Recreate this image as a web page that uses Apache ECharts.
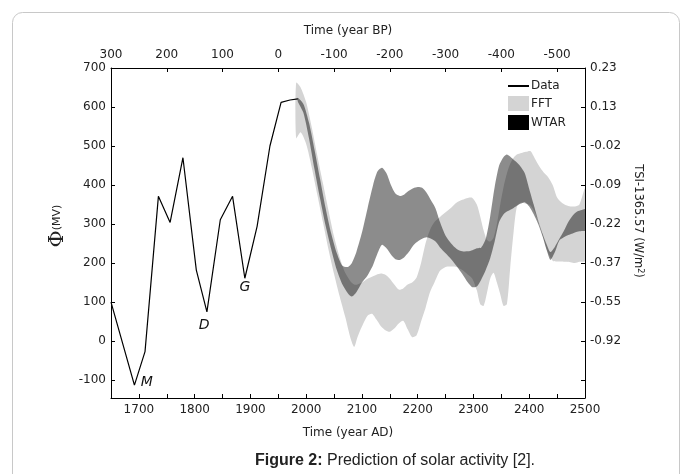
<!DOCTYPE html>
<html><head><meta charset="utf-8">
<script src="https://cdn.jsdelivr.net/npm/echarts@6/dist/echarts.min.js"></script>
<style>html,body{margin:0;padding:0;background:#fff}#c{width:692px;height:474px}</style>
</head><body><div id="c"></div>
<script>
// Observed Φ data (year AD, MV)
const dataYears = [1650, 1692, 1711, 1735, 1756, 1779, 1803, 1822, 1846, 1868, 1890, 1912, 1935, 1955, 1971, 1985];
const dataPhi   = [100, -113, -27, 371, 304, 470, 182, 75, 311, 371, 161, 294, 500, 612, 618, 621];

// FFT prediction band
const fftYears = [1982,1990,2000,2010,2020,2030,2040,2050,2060,2070,2080,2086,2092,2100,2110,2118,2126,2134,2142,2150,2158,2166,2174,2182,2190,2198,2206,2214,2222,2230,2240,2250,2260,2270,2280,2290,2298,2306,2312,2318,2324,2330,2336,2342,2348,2354,2360,2366,2372,2378,2386,2394,2402,2410,2418,2426,2434,2442,2450,2458,2466,2474,2482,2490,2500];
const fftUpper = [662,650,612,548,475,405,335,268,215,175,152,145,145,150,160,165,170,173,170,160,145,132,135,145,150,163,200,250,285,305,318,330,342,355,362,367,367,350,320,285,260,255,265,300,350,395,430,455,470,478,482,485,487,468,448,432,420,400,368,355,348,345,345,350,390];
const fftLower = [520,535,505,445,375,305,235,172,115,62,5,-15,10,37,65,70,55,38,28,24,32,45,52,30,10,15,50,85,125,150,180,190,191,190,182,170,160,130,95,90,122,160,175,150,120,90,95,190,280,345,355,352,348,330,300,260,225,206,204,204,203,202,200,203,205];

// WTAR prediction band
const wtarYears = [1985,1995,2005,2015,2025,2035,2045,2055,2065,2075,2082,2090,2100,2110,2120,2128,2136,2144,2152,2160,2168,2176,2184,2192,2200,2208,2216,2224,2232,2240,2250,2260,2270,2280,2290,2298,2306,2314,2322,2330,2338,2346,2354,2360,2368,2376,2384,2392,2400,2408,2416,2424,2432,2438,2446,2454,2462,2470,2478,2486,2494,2500];
const wtarUpper = [624,608,560,490,415,340,275,225,193,190,200,228,278,340,400,435,444,430,400,378,372,376,385,392,395,393,380,360,340,305,270,250,236,230,230,233,238,240,262,320,395,450,472,478,470,460,448,430,390,350,310,275,245,228,242,262,282,305,322,332,336,338];
const wtarLower = [614,585,520,440,365,295,235,182,145,122,114,125,150,168,195,225,247,238,222,210,208,215,228,245,255,262,266,262,255,240,225,210,192,172,150,138,140,158,182,212,255,305,325,332,338,345,352,356,345,325,300,268,230,208,228,258,266,272,276,280,282,283];

// Right axis TSI labels at Φ ticks
const phiTicks  = [0, 100, 200, 300, 400, 500, 600, 700];
const tsiLabels = ['-0.92','-0.55','-0.37','-0.22','-0.09','-0.02','0.13','0.23'];

// Minima annotations
const annoNames = ['M', 'D', 'G'];
const annoYears = [1714, 1817, 1890];
const annoPhi   = [-105, 41, 137];

const FONT = 'DejaVu Sans';
const pairs = (xs, ys) => xs.map((x, i) => [x, ys[i]]);

function bandSeries(name, years, upper, lower, fill, z) {
  return {
    type: 'custom', name: name, coordinateSystem: 'cartesian2d', xAxisIndex: 0, yAxisIndex: 0,
    silent: true, z: z, clip: true,
    data: [[years[0], upper[0]]],
    renderItem: function (params, api) {
      const up = years.map((y, i) => api.coord([y, upper[i]]));
      const lo = years.map((y, i) => api.coord([y, lower[i]])).reverse();
      return {type: 'polygon', shape: {points: up.concat(lo), smooth: 0.25},
              style: {fill: fill, stroke: null}};
    }
  };
}

const chart = echarts.init(document.getElementById('c'));
const axisCommon = {
  axisLine: {show: true, onZero: false, lineStyle: {color: '#000', width: 1}},
  axisTick: {show: true, inside: true, length: 4, lineStyle: {color: '#000'}},
  splitLine: {show: false},
  axisLabel: {color: '#222', fontFamily: FONT, fontSize: 12}
};
chart.setOption({
  backgroundColor: '#fff',
  animation: false,
  grid: {left: 111, right: 107, top: 68, bottom: 76},
  xAxis: [
    Object.assign({}, axisCommon, {
      type: 'value', position: 'bottom', min: 1650, max: 2500, interval: 50,
      name: 'Time (year AD)', nameLocation: 'middle', nameGap: 29,
      nameTextStyle: {color: '#222', fontFamily: FONT, fontSize: 12},
      axisLabel: Object.assign({}, axisCommon.axisLabel, {margin: 6,
        formatter: v => (v % 100 === 0 ? String(v) : '')})
    }),
    Object.assign({}, axisCommon, {
      type: 'value', position: 'top', min: 1650, max: 2500, interval: 100,
      name: 'Time (year BP)', nameLocation: 'middle', nameGap: 31,
      nameTextStyle: {color: '#222', fontFamily: FONT, fontSize: 12},
      axisLabel: Object.assign({}, axisCommon.axisLabel, {margin: 7, showMaxLabel: false,
        formatter: v => String(1950 - v)})
    })
  ],
  yAxis: [
    Object.assign({}, axisCommon, {
      type: 'value', position: 'left', min: -146, max: 700, splitNumber: 8,
      name: '{phi|Φ}{mv|(MV)}', nameLocation: 'middle', nameGap: 42, nameRotate: 90,
      nameTextStyle: {color: '#222', padding: [0, 0, 0, 14], rich: {
        phi: {fontFamily: 'DejaVu Serif', fontSize: 21, color: '#222'},
        mv: {fontFamily: FONT, fontSize: 11, color: '#222'}}},
      axisLabel: Object.assign({}, axisCommon.axisLabel, {margin: 5, showMinLabel: false})
    }),
    Object.assign({}, axisCommon, {
      type: 'value', position: 'right', min: -146, max: 700, splitNumber: 8,
      name: 'TSI-1365.57 (W/m{sup|2})', nameLocation: 'middle', nameGap: 47, nameRotate: -90,
      nameTextStyle: {color: '#222', fontFamily: FONT, fontSize: 11.5, padding: [0, 24, 0, 0], rich: {
        sup: {fontFamily: FONT, fontSize: 8, verticalAlign: 'top', color: '#222'}}},
      axisLabel: Object.assign({}, axisCommon.axisLabel, {margin: 5, showMinLabel: false,
        formatter: v => { const i = phiTicks.indexOf(v); return i >= 0 ? tsiLabels[i] : ''; }})
    })
  ],
  legend: {
    orient: 'vertical', left: 507, top: 80, itemWidth: 21, itemHeight: 15, itemGap: 4,
    padding: 0, selectedMode: false,
    textStyle: {fontFamily: FONT, fontSize: 12, color: '#222', padding: [0, 0, 0, -3]},
    data: [
      {name: 'Data', itemStyle: {opacity: 0}},
      {name: 'FFT', icon: 'rect', itemStyle: {color: '#d4d4d4'}},
      {name: 'WTAR', icon: 'rect', itemStyle: {color: '#000'}}
    ]
  },
  series: [
    bandSeries('FFT', fftYears, fftUpper, fftLower, '#d4d4d4', 1),
    bandSeries('WTAR', wtarYears, wtarUpper, wtarLower, 'rgba(0,0,0,0.45)', 2),
    {type: 'line', name: 'Data', data: pairs(dataYears, dataPhi), symbol: 'none', color: '#000',
     lineStyle: {color: '#000', width: 1.2}, z: 5,
     markPoint: {symbol: 'circle', symbolSize: 0, silent: true,
       label: {show: true, position: 'inside', fontFamily: FONT, fontStyle: 'italic', fontSize: 14, color: '#111',
               formatter: p => p.name},
       data: annoNames.map((n, i) => ({name: n, coord: [annoYears[i], annoPhi[i]]}))}}
  ],
  graphic: [
    {type: 'rect', silent: true, z: -10, shape: {x: 12.5, y: 12.5, width: 667, height: 490, r: 10},
     style: {fill: 'none', stroke: '#c8c8c8', lineWidth: 1}},
    {type: 'text', silent: true, x: 395, y: 461,
     style: {text: '{b|Figure 2:} Prediction of solar activity [2].', fontFamily: 'Liberation Sans', fontSize: 16,
             fill: '#222', align: 'center', verticalAlign: 'middle',
             rich: {b: {fontFamily: 'Liberation Sans', fontSize: 16, fontWeight: 'bold', fill: '#222'}}}}
  ]
});
</script></body></html>
